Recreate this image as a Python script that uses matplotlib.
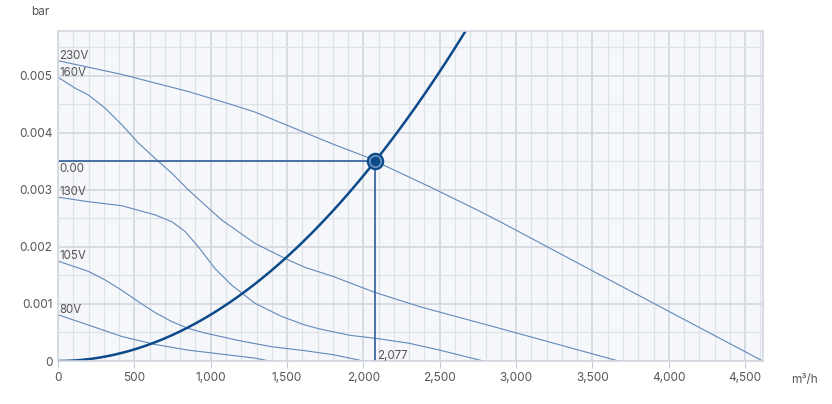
import numpy as np
import matplotlib
matplotlib.use("Agg")
from matplotlib import pyplot as plt
from matplotlib.ticker import MultipleLocator, FuncFormatter

plt.rcParams['font.family'] = ['Inter', 'DejaVu Sans']

# fan curves (flow m3/h, pressure bar)
x_230 = [0, 417, 853, 1126, 1290, 1563, 1800, 2043, 2077, 2436, 2764, 2895, 3549, 3986, 4615]
y_230 = [0.00526, 0.00502, 0.00472, 0.00450, 0.00436, 0.00406, 0.00380, 0.00355, 0.00350,
         0.00305, 0.00262, 0.00244, 0.00151, 0.00089, 0.0]

x_160 = [0, 111, 199, 308, 417, 526, 635, 745, 853, 984, 1072, 1290, 1508, 1618, 1803,
         2077, 2371, 2895, 3004, 3670]
y_160 = [0.00497, 0.00478, 0.00466, 0.00443, 0.00414, 0.00382, 0.00355, 0.00329, 0.00300,
         0.00268, 0.00247, 0.00206, 0.00177, 0.00164, 0.00148, 0.00120, 0.00095, 0.00057,
         0.00049, 0.0]

x_130 = [0, 199, 417, 635, 745, 832, 919, 1028, 1137, 1290, 1465, 1618, 1716, 1912, 2100,
         2300, 2500, 2785]
y_130 = [0.00287, 0.00279, 0.00272, 0.00256, 0.00244, 0.00227, 0.00200, 0.00162, 0.00133,
         0.00101, 0.00078, 0.00063, 0.00056, 0.00045, 0.00039, 0.00031, 0.00019, 0.0]

x_105 = [0, 199, 308, 417, 526, 635, 745, 853, 963, 1181, 1399, 1618, 1803, 1912, 2000]
y_105 = [0.00175, 0.00157, 0.00142, 0.00124, 0.00104, 0.00085, 0.00069, 0.00057, 0.00049,
         0.00036, 0.00025, 0.00018, 0.00011, 0.00005, 0.0]

x_80 = [0, 199, 417, 635, 853, 1072, 1290, 1384]
y_80 = [0.00081, 0.00063, 0.00043, 0.00029, 0.00019, 0.00012, 0.00005, 0.0]

fan_labels = ["230V", "160V", "130V", "105V", "80V"]
fan_x = [x_230, x_160, x_130, x_105, x_80]
fan_y = [y_230, y_160, y_130, y_105, y_80]

# operating point
op_flow = 2077
op_pressure = 0.0035

x_max = 4615
y_max = 0.00578

fan_color = "#6289b8"
sys_color = "#0c4a8a"
op_color = "#3a67a0"
text_color = "#555555"

fig = plt.figure(figsize=(8.32, 4.04), dpi=100)
ax = fig.add_axes([58 / 832, 43 / 404, (762.7 - 58) / 832, (361 - 31) / 404])
ax.set_facecolor("#f5f7fa")

ax.set_xlim(0, x_max)
ax.set_ylim(0, y_max)
ax.xaxis.set_major_locator(MultipleLocator(500))
ax.xaxis.set_minor_locator(MultipleLocator(100))
ax.yaxis.set_major_locator(MultipleLocator(0.001))
ax.yaxis.set_minor_locator(MultipleLocator(0.0005))
ax.grid(which="major", color="#d3d7de", linewidth=1.2)
ax.grid(which="minor", color="#dfe2e7", linewidth=0.9)
ax.set_axisbelow(True)

ax.xaxis.set_major_formatter(FuncFormatter(lambda v, p: f"{int(v):,}"))
ax.yaxis.set_major_formatter(FuncFormatter(lambda v, p: "0" if v == 0 else f"{v:.3f}"))
ax.tick_params(axis="x", which="major", length=5, color="#c8ccd3", labelsize=8.5,
               labelcolor=text_color, pad=3)
ax.tick_params(axis="y", which="major", length=0, labelsize=8.5, labelcolor=text_color, pad=4)
ax.tick_params(which="minor", length=0)
for s in ax.spines.values():
    s.set_color("#d3d7de")
    s.set_linewidth(1.2)

for lab, xs, ys in zip(fan_labels, fan_x, fan_y):
    ax.plot(xs, ys, color=fan_color, linewidth=0.8)
    ax.text(8, ys[0] + 0.00003, lab, fontsize=8.3, color=text_color, va="baseline", ha="left")

# system curve
k = op_pressure / op_flow ** 2
xs = np.linspace(0, 2700, 300)
ax.plot(xs, k * xs ** 2, color=sys_color, linewidth=1.8)

ax.plot([0, op_flow], [op_pressure, op_pressure], color=op_color, linewidth=1.3)
ax.plot([op_flow, op_flow], [0, op_pressure], color=op_color, linewidth=1.3)
ax.plot(op_flow, op_pressure, "o", ms=11, mfc="#6f97c6", mec=sys_color, mew=1.6)
ax.plot(op_flow, op_pressure, "o", ms=6, mfc=sys_color, mec=sys_color)

ax.text(8, op_pressure - 0.00004, "0.00", fontsize=8.3, color=text_color, va="top", ha="left")
ax.text(op_flow + 11, 0.00003, f"{op_flow:,}", fontsize=8.3, color=text_color,
        va="baseline", ha="left")

fig.text(40 / 832, 1 - 12 / 404, "bar", fontsize=8.5, color=text_color, va="center", ha="center")
fig.text(805 / 832, 1 - 380 / 404, "m³/h", fontsize=8.5, color=text_color, va="center", ha="center")

fig.savefig("out.png", dpi=100)
